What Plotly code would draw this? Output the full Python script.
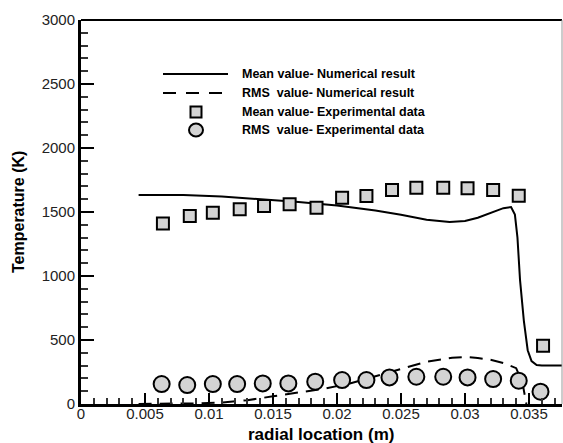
import plotly.graph_objects as go

# ---- data ----
mean_num_x = [0.0045, 0.008, 0.011, 0.014, 0.017, 0.020, 0.023, 0.025, 0.027, 0.0288,
              0.030, 0.031, 0.032, 0.033, 0.0336, 0.0339, 0.0341, 0.0343, 0.0346,
              0.0349, 0.0352, 0.0356, 0.036, 0.0376]
mean_num_y = [1633, 1632, 1622, 1600, 1578, 1550, 1512, 1478, 1440, 1422,
              1430, 1455, 1495, 1530, 1539, 1480, 1300, 970, 650,
              420, 335, 305, 300, 300]

rms_num_x = [0.0045, 0.007, 0.009, 0.011, 0.013, 0.015, 0.017, 0.019, 0.021, 0.023,
             0.025, 0.027, 0.029, 0.030, 0.031, 0.032, 0.033, 0.034, 0.0345, 0.0348]
rms_num_y = [0, 2, 5, 12, 30, 60, 90, 120, 160, 215,
             275, 330, 362, 367, 360, 345, 320, 280, 160, 0]

mean_exp_x = [0.0064, 0.0085, 0.0103, 0.0124, 0.0143, 0.0163, 0.0184, 0.0204,
              0.0223, 0.0243, 0.0262, 0.0283, 0.0302, 0.0322, 0.0342, 0.0361]
mean_exp_y = [1411, 1469, 1495, 1521, 1547, 1560, 1534, 1612,
              1625, 1672, 1690, 1690, 1685, 1672, 1627, 455]

rms_exp_x = [0.0063, 0.0083, 0.0103, 0.0122, 0.0142, 0.0162, 0.0183, 0.0204,
             0.0223, 0.0241, 0.0262, 0.0283, 0.0302, 0.0322, 0.0342, 0.0359]
rms_exp_y = [156, 148, 156, 156, 161, 161, 174, 187,
             187, 208, 213, 213, 208, 195, 182, 96]

legend_labels = ["Mean value- Numerical result",
                 "RMS  value- Numerical result",
                 "Mean value- Experimental data",
                 "RMS  value- Experimental data"]

FONT = "Liberation Sans"
W, H = 563, 443
L, R, T, B = 81, 1, 20, 39
PW, PH = W - L - R, H - T - B

def px(xp):
    return (xp - L) / PW

def py(yp):
    return (H - B - yp) / PH

fig = go.Figure()
fig.add_trace(go.Scatter(x=mean_num_x, y=mean_num_y, mode="lines",
                         line=dict(color="black", width=2), showlegend=False))
fig.add_trace(go.Scatter(x=rms_num_x, y=rms_num_y, mode="lines",
                         line=dict(color="black", width=2, dash="13px,8px"), showlegend=False))
fig.add_trace(go.Scatter(x=mean_exp_x, y=mean_exp_y, mode="markers",
                         marker=dict(symbol="square", size=12, color="#d3d3d3",
                                     line=dict(color="black", width=2)), showlegend=False))
fig.add_trace(go.Scatter(x=rms_exp_x, y=rms_exp_y, mode="markers",
                         marker=dict(symbol="circle", size=16, color="#d3d3d3",
                                     line=dict(color="black", width=2)), showlegend=False))

shapes = [
    dict(type="line", xref="paper", yref="paper", x0=0, x1=1, y0=1, y1=1,
         line=dict(color="black", width=2)),
    dict(type="line", xref="paper", yref="paper", x0=1, x1=1, y0=0, y1=1,
         line=dict(color="#999999", width=1)),
]
rows_y = [74, 93, 112, 130]
# legend samples
shapes.append(dict(type="line", xref="paper", yref="paper", x0=px(163), x1=px(228),
                   y0=py(rows_y[0]), y1=py(rows_y[0]), line=dict(color="black", width=2)))
shapes.append(dict(type="line", xref="paper", yref="paper", x0=px(163), x1=px(228),
                   y0=py(rows_y[1]), y1=py(rows_y[1]),
                   line=dict(color="black", width=2, dash="13px,10px")))
shapes.append(dict(type="rect", xref="paper", yref="paper", xsizemode="pixel", ysizemode="pixel",
                   xanchor=px(196), yanchor=py(rows_y[2]), x0=-5.5, x1=5.5, y0=-5.5, y1=5.5,
                   fillcolor="#d3d3d3", line=dict(color="black", width=2)))
shapes.append(dict(type="circle", xref="paper", yref="paper", xsizemode="pixel", ysizemode="pixel",
                   xanchor=px(196), yanchor=py(rows_y[3]), x0=-7, x1=7, y0=-6.5, y1=6.5,
                   fillcolor="#d3d3d3", line=dict(color="black", width=2)))

annotations = []
for lab, ry in zip(legend_labels, rows_y):
    annotations.append(dict(text=lab, xref="paper", yref="paper", x=px(240), y=py(ry),
                            xanchor="left", yanchor="middle", showarrow=False,
                            font=dict(family=FONT, size=12.5, color="black", weight="bold")))
annotations.append(dict(text="Temperature (K)", xref="paper", yref="paper", x=px(18), y=0.5,
                        xanchor="center", yanchor="middle", textangle=-90, showarrow=False,
                        font=dict(family=FONT, size=16, color="black", weight="bold")))
annotations.append(dict(text="radial location (m)", xref="paper", yref="paper", x=px(321), y=py(434),
                        xanchor="center", yanchor="middle", showarrow=False,
                        font=dict(family=FONT, size=17, color="black", weight="bold")))

fig.update_layout(
    width=W, height=H,
    margin=dict(l=L, r=R, t=T, b=B, pad=0),
    paper_bgcolor="white", plot_bgcolor="white",
    shapes=shapes, annotations=annotations,
    showlegend=False,
    font=dict(family=FONT, size=14, color="#222222"),
)
fig.update_xaxes(range=[0, 0.03758], tickmode="linear", tick0=0, dtick=0.005,
                 ticks="inside", ticklen=11, tickwidth=2, tickcolor="black",
                 minor=dict(dtick=0.001, ticks="inside", ticklen=6, tickwidth=1.5, tickcolor="#333333"),
                 showline=True, linewidth=3, linecolor="black",
                 showgrid=False, zeroline=False, ticklabelstandoff=-6,
                 tickfont=dict(family=FONT, size=15, color="#222222"))
fig.update_yaxes(range=[0, 3000], tickmode="linear", tick0=0, dtick=500,
                 ticks="inside", ticklen=13, tickwidth=2, tickcolor="black",
                 minor=dict(dtick=100, ticks="inside", ticklen=7, tickwidth=1.5, tickcolor="#333333"),
                 showline=True, linewidth=3, linecolor="black",
                 showgrid=False, zeroline=False,
                 tickfont=dict(family=FONT, size=15, color="#222222"))

fig.write_html("out.html")
